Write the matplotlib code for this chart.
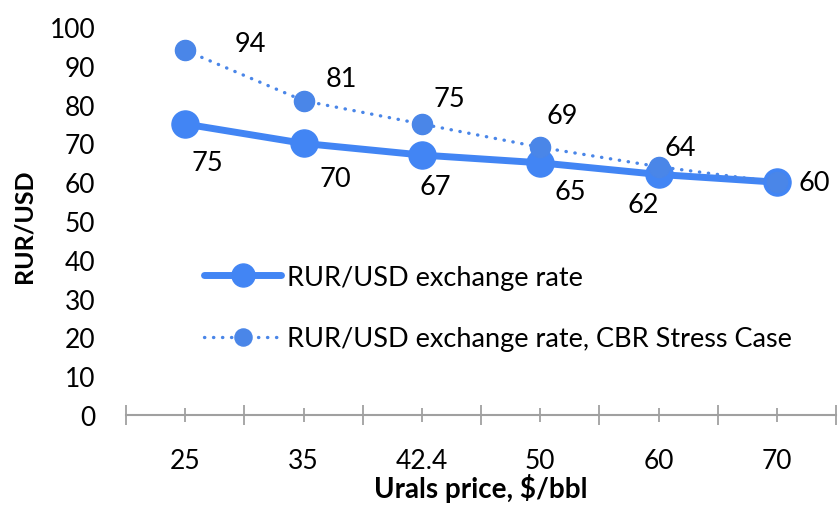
import matplotlib.pyplot as plt
from matplotlib.ticker import FixedLocator, NullFormatter

plt.rcParams['font.family'] = ['Lato', 'DejaVu Sans']

prices = ['25', '35', '42.4', '50', '60', '70']
base_rate = [75, 70, 67, 65, 62, 60]
stress_rate = [94, 81, 75, 69, 64, 60]

# label offsets in points (layout only)
base_offsets = [(16, -28), (23, -25), (10, -23), (22, -21), (-11, -22), (27, 0)]
stress_offsets = [(47, 5), (27, 16), (20, 18), (16, 23), (16, 14), None]

fig = plt.figure(figsize=(8.38, 5.06), dpi=100)
ax = fig.add_axes([126 / 838, 1 - 416 / 506, 710 / 838, 388 / 506])

x = list(range(len(prices)))
blue = '#4285F4'
blue2 = '#4A86E8'

ax.plot(x, base_rate, color=blue, lw=5, marker='o', ms=19.5,
        solid_capstyle='round', label='RUR/USD exchange rate', zorder=3)
ax.plot(x, stress_rate, color=blue2, lw=2.4, ls=(0, (0.1, 2.6)),
        dash_capstyle='round', marker='o', ms=14.5,
        label='RUR/USD exchange rate, CBR Stress Case', zorder=4)

for xi, v, off in zip(x, base_rate, base_offsets):
    ax.annotate(str(v), (xi, v), xytext=off, textcoords='offset points',
                ha='center', va='center', fontsize=19.5)
for xi, v, off in zip(x, stress_rate, stress_offsets):
    if off is None:
        continue
    ax.annotate(str(v), (xi, v), xytext=off, textcoords='offset points',
                ha='center', va='center', fontsize=19.5)

ax.set_xlim(-0.5, 5.5)
ax.set_ylim(0, 100)
ax.set_yticks(range(0, 101, 10))
ax.tick_params(axis='y', length=0, pad=22, labelsize=19)

ax.xaxis.set_major_locator(FixedLocator([i - 0.5 for i in range(7)]))
ax.xaxis.set_major_formatter(NullFormatter())
ax.xaxis.set_minor_locator(FixedLocator(x))
ax.set_xticklabels(prices, minor=True)
ax.tick_params(axis='x', which='major', direction='inout', length=14,
               width=1.3, color='#A0A0A0')
ax.tick_params(axis='x', which='minor', direction='inout', length=10,
               width=1.3, color='#A0A0A0', pad=19, labelsize=19)

for s in ['top', 'right', 'left']:
    ax.spines[s].set_visible(False)
ax.spines['bottom'].set_color('#A0A0A0')
ax.spines['bottom'].set_linewidth(1.5)

ax.set_xlabel('Urals price, $/bbl', fontsize=20, fontweight='bold', labelpad=0)
ax.set_ylabel('RUR/USD', fontsize=18, fontweight='bold', va='center')
ax.yaxis.set_label_coords(-0.143, 0.49)

ax.legend(loc='upper left', bbox_to_anchor=(0.095, 0.415), frameon=False,
          fontsize=19.5, handlelength=2.85, handletextpad=0.2, labelspacing=1.35,
          borderaxespad=0, markerscale=0.85)

fig.savefig('out.png', dpi=100)
